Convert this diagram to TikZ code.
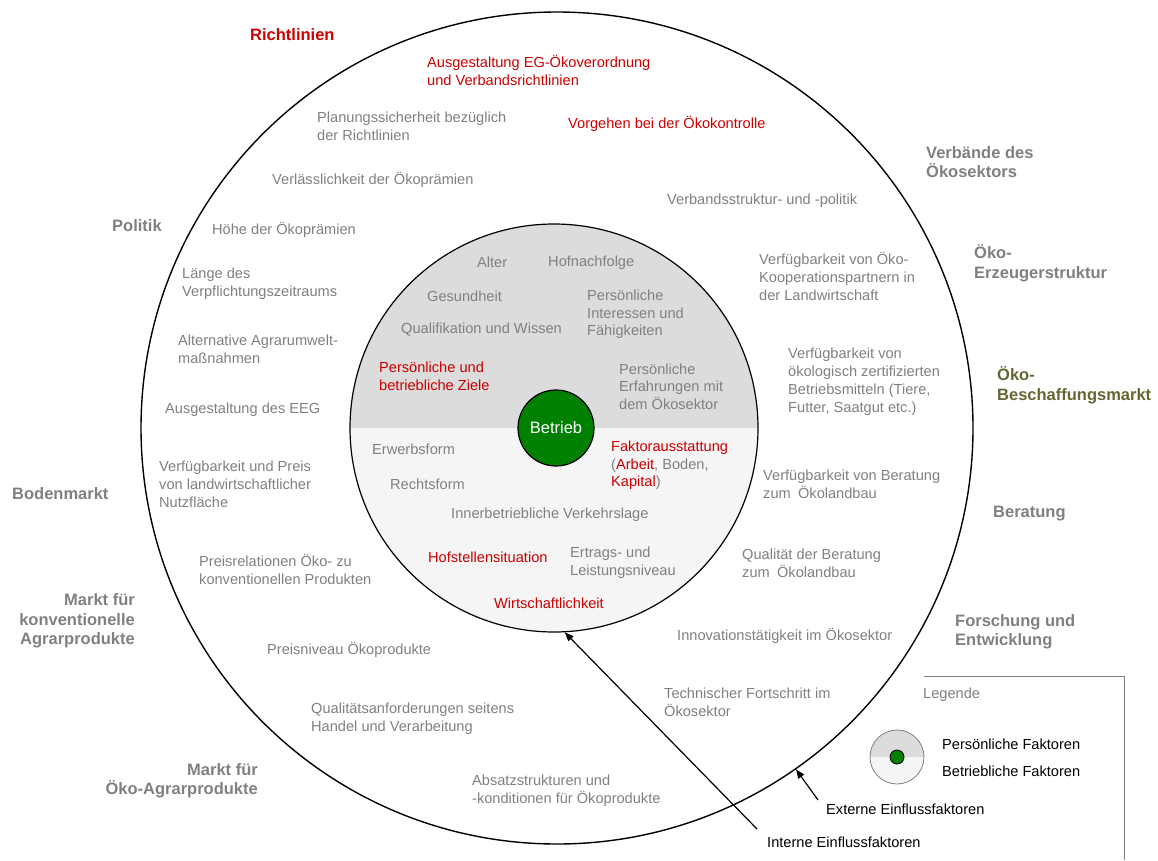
\documentclass[tikz,border=0pt]{standalone}
\usepackage{fontspec}
\setmainfont{Liberation Sans}
\usetikzlibrary{arrows.meta}
\definecolor{tgray}{HTML}{808080}
\definecolor{tred}{HTML}{CC0000}
\definecolor{tolive}{HTML}{666633}
\definecolor{topfill}{HTML}{DCDCDC}
\definecolor{botfill}{HTML}{F5F5F5}
\definecolor{betgreen}{HTML}{008000}
\begin{document}
\begin{tikzpicture}[x=1pt,y=-1pt,
  txt/.style={anchor=west, align=left, inner sep=0pt, yshift=-1.5pt, text=tgray, font=\fontsize{14.6}{18}\selectfont},
  redtxt/.style={txt, text=tred},
  blacktxt/.style={txt, text=black},
  head/.style={anchor=west, align=left, inner sep=0pt, yshift=-1pt, text=tgray, font=\fontsize{16.5}{19.5}\selectfont\bfseries},
  headr/.style={head, anchor=east, align=right},
  arr/.style={-{Triangle[length=9pt,width=7pt]}, line width=1.2pt, black},
  ring/.style={circle, draw=black, inner sep=0pt}
]
\useasboundingbox (0,0) rectangle (1158,860);

% outer circle
\node[ring, line width=1.4pt, minimum size=832pt] (outer) at (557,428) {};

% inner circle fills
\begin{scope}
  \clip (554,428) circle[radius=204pt];
  \fill[topfill] (330,200) rectangle (780,428);
  \fill[botfill] (330,428) rectangle (780,660);
\end{scope}
\node[ring, line width=1.2pt, minimum size=408pt] (inner) at (554,428) {};

% Betrieb
\node[ring, line width=1.2pt, fill=betgreen, minimum size=76pt, text=white,
      font=\fontsize{16.5}{19}\selectfont] (betrieb) at (556,428) {Betrieb};

% headings
\node[head, text=tred] (richtlinien) at (250,34) {Richtlinien};
\node[head] (politik) at (112,225) {Politik};
\node[head] (bodenmarkt) at (12,493) {Bodenmarkt};
\node[headr] (konvmarkt) at (135,620) {Markt für\\konventionelle\\Agrarprodukte};
\node[headr] (oekomarkt) at (258,780) {Markt für\\Öko-Agrarprodukte};
\node[head] (verbaende) at (926,161) {Verbände des\\Ökosektors};
\node[head] (erzeuger) at (974,262) {Öko-\\Erzeugerstruktur};
\node[head, text=tolive] (beschaffung) at (997,384) {Öko-\\Beschaffungsmarkt};
\node[head] (beratung) at (993,513) {Beratung};
\node[head] (forschung) at (955,631) {Forschung und\\Entwicklung};

% outer ring texts
\node[redtxt] (egoeko) at (427,69) {Ausgestaltung EG-Ökoverordnung\\und Verbandsrichtlinien};
\node[redtxt] (kontrolle) at (568,122) {Vorgehen bei der Ökokontrolle};
\node[txt] (planung) at (317,125) {Planungssicherheit bezüglich\\der Richtlinien};
\node[txt] (verlass) at (272,178) {Verlässlichkeit der Ökoprämien};
\node[txt] (hoehe) at (212,228) {Höhe der Ökoprämien};
\node[txt] (laenge) at (182,282) {Länge des\\Verpflichtungszeitraums};
\node[txt] (alternative) at (178,348) {Alternative Agrarumwelt-\\maßnahmen};
\node[txt] (eeg) at (165,408) {Ausgestaltung des EEG};
\node[txt] (flaeche) at (159,483) {Verfügbarkeit und Preis\\von landwirtschaftlicher\\Nutzfläche};
\node[txt] (preisrel) at (199,568) {Preisrelationen Öko- zu\\konventionellen Produkten};
\node[txt] (preisniveau) at (267,648) {Preisniveau Ökoprodukte};
\node[txt] (qualitaet) at (311,717) {Qualitätsanforderungen seitens\\Handel und Verarbeitung};
\node[txt] (absatz) at (472,789) {Absatzstrukturen und\\-konditionen für Ökoprodukte};
\node[txt] (verbandsstr) at (667,199) {Verbandsstruktur- und -politik};
\node[txt] (koop) at (759,275) {Verfügbarkeit von Öko-\\Kooperationspartnern in\\der Landwirtschaft};
\node[txt] (betriebsmittel) at (788,380) {Verfügbarkeit von\\ökologisch zertifizierten\\Betriebsmitteln (Tiere,\\Futter, Saatgut etc.)};
\node[txt] (verfberatung) at (763,483) {Verfügbarkeit von Beratung\\zum\enspace Ökolandbau};
\node[txt] (qualberatung) at (742,562) {Qualität der Beratung\\zum\enspace Ökolandbau};
\node[txt] (innovation) at (677,634) {Innovationstätigkeit im Ökosektor};
\node[txt] (technik) at (664,701) {Technischer Fortschritt im\\Ökosektor};

% inner circle texts
\node[txt] (alter) at (477,261) {Alter};
\node[txt] (hofnachfolge) at (548,261) {Hofnachfolge};
\node[txt] (gesundheit) at (427,295) {Gesundheit};
\node[txt, font=\fontsize{14.6}{17.5}\selectfont] (interessen) at (587,313) {Persönliche\\Interessen und\\Fähigkeiten};
\node[txt] (qualifikation) at (401,328) {Qualifikation und Wissen};
\node[redtxt, font=\fontsize{14.6}{17.5}\selectfont] (ziele) at (379,375) {Persönliche und\\betriebliche Ziele};
\node[txt, font=\fontsize{14.6}{17.5}\selectfont] (erfahrungen) at (619,385) {Persönliche\\Erfahrungen mit\\dem Ökosektor};
\node[txt] (erwerbsform) at (372,448) {Erwerbsform};
\node[txt] (rechtsform) at (390,483) {Rechtsform};
\node[txt, font=\fontsize{14.6}{17.5}\selectfont] (faktor) at (611,464) {{\color{tred}Faktorausstattung}\\({\color{tred}Arbeit}, Boden,\\{\color{tred}Kapital})};
\node[txt] (verkehrslage) at (451,513) {Innerbetriebliche Verkehrslage};
\node[redtxt] (hofstelle) at (428,556) {Hofstellensituation};
\node[txt, font=\fontsize{14.6}{17.5}\selectfont] (ertrag) at (570,561) {Ertrags- und\\Leistungsniveau};
\node[redtxt] (wirtschaft) at (494,602) {Wirtschaftlichkeit};

% legend
\coordinate (legA) at (924,676);
\coordinate (legB) at (1124,676);
\coordinate (legC) at (1124,860);
\draw[tgray, line width=1pt] (legA) -- (legB) -- (legC);
\node[txt] (legende) at (923,693) {Legende};
\begin{scope}
  \clip (897,757) circle[radius=27pt];
  \fill[topfill] (860,720) rectangle (935,757);
  \fill[botfill] (860,757) rectangle (935,795);
\end{scope}
\node[circle, draw=tgray, line width=0.8pt, inner sep=0pt, minimum size=54pt] (legcircle) at (897,757) {};
\node[ring, line width=0.8pt, fill=betgreen, minimum size=14pt] (legdot) at (897,757) {};
\node[blacktxt] (legpers) at (942,743) {Persönliche Faktoren};
\node[blacktxt] (legbetr) at (942,770) {Betriebliche Faktoren};
\node[blacktxt] (externe) at (826,808) {Externe Einflussfaktoren};
\node[blacktxt] (interne) at (767,841) {Interne Einflussfaktoren};

% arrows
\coordinate (extTail) at (818,800);
\coordinate (intTail) at (757,829);
\draw[arr] (extTail) -- (outer.-55.6);
\draw[arr] (intTail) -- (inner.-87);
\end{tikzpicture}
\end{document}
